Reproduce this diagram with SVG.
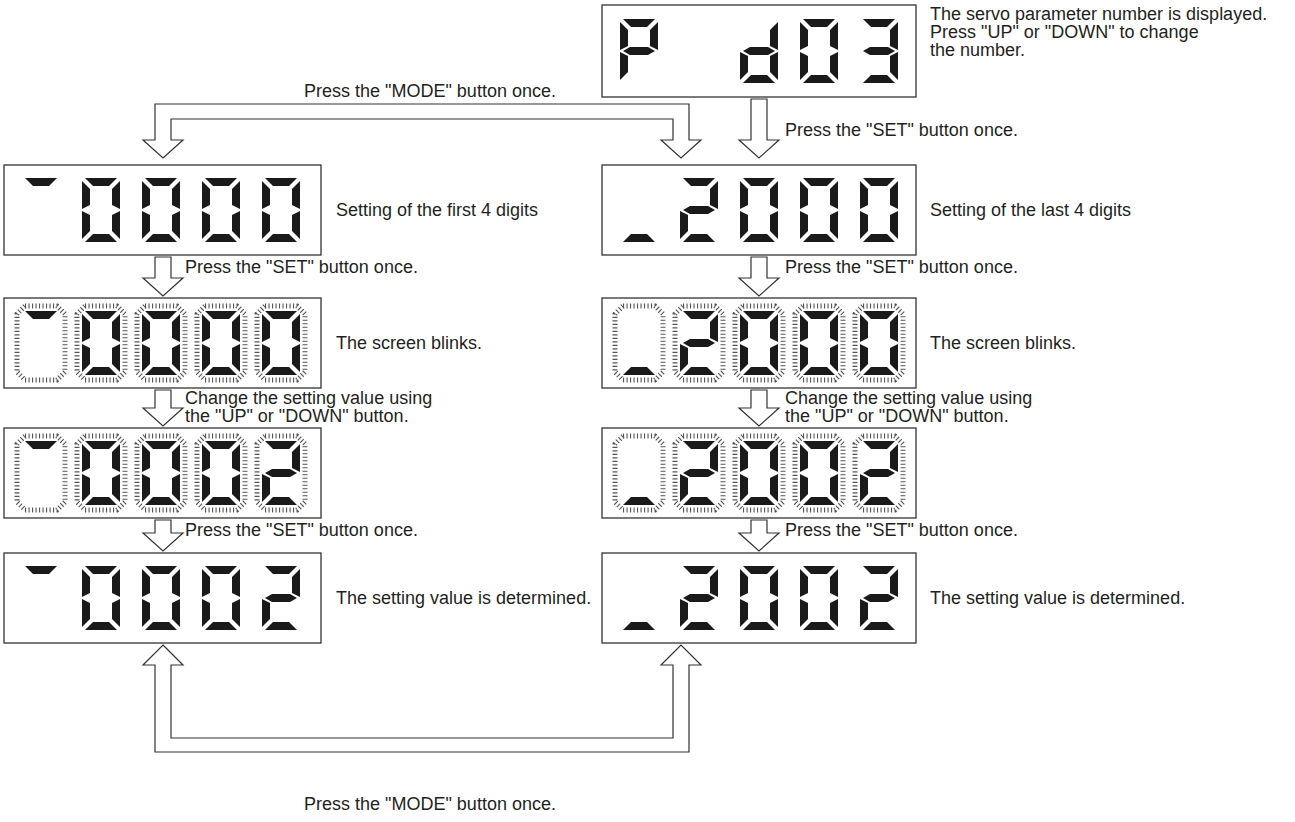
<svg xmlns="http://www.w3.org/2000/svg" xmlns:xlink="http://www.w3.org/1999/xlink" width="1295" height="822" viewBox="0 0 1295 822">
<style>
.bg{fill:#fff}
.box{fill:#fff;stroke:#333;stroke-width:1.3}
.seg{fill:#1a1a1a}
.glow{fill:none;stroke:#555;stroke-width:5;stroke-dasharray:1.1 2.4}
.arr{fill:#fff;stroke:#333;stroke-width:1.2;stroke-linejoin:miter}
.t{font-family:"Liberation Sans",Arial,sans-serif;font-size:18px;fill:#231f20}
</style>
<defs>
<polygon id="sa" points="3,0 35,0 27,8 11,8"/>
<polygon id="sb" points="38,3 38,31 30,27 30,11"/>
<polygon id="sc" points="38,33 38,61 30,53 30,37"/>
<polygon id="sd" points="3,64 11,56 27,56 35,64"/>
<polygon id="se" points="0,33 8,37 8,53 0,61"/>
<polygon id="sf" points="0,3 8,11 8,27 0,31"/>
<polygon id="sg" points="3,32 10,28 28,28 35,32 28,36 10,36"/>
<g id="d0" class="seg"><use href="#sa"/><use href="#sb"/><use href="#sc"/><use href="#sd"/><use href="#se"/><use href="#sf"/></g>
<g id="d2" class="seg"><use href="#sa"/><use href="#sb"/><use href="#sg"/><use href="#se"/><use href="#sd"/></g>
<g id="d3" class="seg"><use href="#sa"/><use href="#sb"/><use href="#sg"/><use href="#sc"/><use href="#sd"/></g>
<g id="dd" class="seg"><use href="#sb"/><use href="#sc"/><use href="#sd"/><use href="#se"/><use href="#sg"/></g>
<g id="dP" class="seg"><use href="#sa"/><use href="#sb"/><use href="#sf"/><use href="#sg"/><use href="#se"/></g>
<g id="dt" class="seg"><use href="#sa"/></g>
<g id="du" class="seg"><use href="#sd"/></g>
<path id="gl" class="glow" d="M3,-5 H35 L43,3 V61 L35,69 H3 L-5,61 V3 Z"/>
</defs>
<rect class="bg" x="0" y="0" width="1295" height="822"/>

<g id="connectors">
<path class="arr" d="M155,140 L155,104 L689,104 L689,140 L701,140 L681,158 L661,140 L673,140 L673,119 L171,119 L171,140 L183,140 L163,158 L143,140 Z"/>
<path class="arr" d="M751,99 L767,99 L767,140 L779,140 L759,158 L739,140 L751,140 Z"/>
<path class="arr" d="M155,257 L171,257 L171,278 L183,278 L163,296 L143,278 L155,278 Z"/>
<path class="arr" d="M751,257 L767,257 L767,278 L779,278 L759,296 L739,278 L751,278 Z"/>
<path class="arr" d="M155,390 L171,390 L171,408 L183,408 L163,426 L143,408 L155,408 Z"/>
<path class="arr" d="M751,390 L767,390 L767,408 L779,408 L759,426 L739,408 L751,408 Z"/>
<path class="arr" d="M155,520 L171,520 L171,533 L183,533 L163,551 L143,533 L155,533 Z"/>
<path class="arr" d="M751,520 L767,520 L767,533 L779,533 L759,551 L739,533 L751,533 Z"/>
<path class="arr" d="M163,645 L183,665 L171,665 L171,738 L673,738 L673,665 L661,665 L681,645 L701,665 L689,665 L689,752 L155,752 L155,665 L143,665 Z"/>
</g>

<g id="n-top">
<rect class="box" x="602" y="5" width="314" height="92"/>
<use href="#dP" x="620" y="19"/><use href="#dd" x="740" y="19"/><use href="#d0" x="800" y="19"/><use href="#d3" x="860" y="19"/>
<text class="t" x="930" y="20">The servo parameter number is displayed.</text>
<text class="t" x="930" y="38">Press "UP" or "DOWN" to change</text>
<text class="t" x="930" y="56">the number.</text>
</g>

<g id="n-l1">
<rect class="box" x="4" y="165" width="317" height="90"/>
<use href="#dt" x="22" y="178"/><use href="#d0" x="82" y="178"/><use href="#d0" x="142" y="178"/><use href="#d0" x="202" y="178"/><use href="#d0" x="262" y="178"/>
<text class="t" x="336" y="216">Setting of the first 4 digits</text>
</g>
<g id="n-r1">
<rect class="box" x="602" y="165" width="314" height="90"/>
<use href="#du" x="620" y="178"/><use href="#d2" x="680" y="178"/><use href="#d0" x="740" y="178"/><use href="#d0" x="800" y="178"/><use href="#d0" x="860" y="178"/>
<text class="t" x="930" y="216">Setting of the last 4 digits</text>
</g>

<g id="n-l2">
<rect class="box" x="4" y="298" width="317" height="90"/>
<use href="#gl" x="22" y="311"/><use href="#gl" x="82" y="311"/><use href="#gl" x="142" y="311"/><use href="#gl" x="202" y="311"/><use href="#gl" x="262" y="311"/>
<use href="#dt" x="22" y="311"/><use href="#d0" x="82" y="311"/><use href="#d0" x="142" y="311"/><use href="#d0" x="202" y="311"/><use href="#d0" x="262" y="311"/>
<text class="t" x="336" y="349">The screen blinks.</text>
</g>
<g id="n-r2">
<rect class="box" x="602" y="298" width="314" height="90"/>
<use href="#gl" x="620" y="311"/><use href="#gl" x="680" y="311"/><use href="#gl" x="740" y="311"/><use href="#gl" x="800" y="311"/><use href="#gl" x="860" y="311"/>
<use href="#du" x="620" y="311"/><use href="#d2" x="680" y="311"/><use href="#d0" x="740" y="311"/><use href="#d0" x="800" y="311"/><use href="#d0" x="860" y="311"/>
<text class="t" x="930" y="349">The screen blinks.</text>
</g>

<g id="n-l3">
<rect class="box" x="4" y="428" width="317" height="90"/>
<use href="#gl" x="22" y="441"/><use href="#gl" x="82" y="441"/><use href="#gl" x="142" y="441"/><use href="#gl" x="202" y="441"/><use href="#gl" x="262" y="441"/>
<use href="#dt" x="22" y="441"/><use href="#d0" x="82" y="441"/><use href="#d0" x="142" y="441"/><use href="#d0" x="202" y="441"/><use href="#d2" x="262" y="441"/>
</g>
<g id="n-r3">
<rect class="box" x="602" y="428" width="314" height="90"/>
<use href="#gl" x="620" y="441"/><use href="#gl" x="680" y="441"/><use href="#gl" x="740" y="441"/><use href="#gl" x="800" y="441"/><use href="#gl" x="860" y="441"/>
<use href="#du" x="620" y="441"/><use href="#d2" x="680" y="441"/><use href="#d0" x="740" y="441"/><use href="#d0" x="800" y="441"/><use href="#d2" x="860" y="441"/>
</g>

<g id="n-l4">
<rect class="box" x="4" y="553" width="317" height="90"/>
<use href="#dt" x="22" y="566"/><use href="#d0" x="82" y="566"/><use href="#d0" x="142" y="566"/><use href="#d0" x="202" y="566"/><use href="#d2" x="262" y="566"/>
<text class="t" x="336" y="604">The setting value is determined.</text>
</g>
<g id="n-r4">
<rect class="box" x="602" y="553" width="314" height="90"/>
<use href="#du" x="620" y="566"/><use href="#d2" x="680" y="566"/><use href="#d0" x="740" y="566"/><use href="#d0" x="800" y="566"/><use href="#d2" x="860" y="566"/>
<text class="t" x="930" y="604">The setting value is determined.</text>
</g>

<g id="labels">
<text class="t" x="430" y="97" text-anchor="middle">Press the "MODE" button once.</text>
<text class="t" x="785" y="136">Press the "SET" button once.</text>
<text class="t" x="185" y="273">Press the "SET" button once.</text>
<text class="t" x="785" y="273">Press the "SET" button once.</text>
<text class="t" x="185" y="404">Change the setting value using</text>
<text class="t" x="185" y="422">the "UP" or "DOWN" button.</text>
<text class="t" x="785" y="404">Change the setting value using</text>
<text class="t" x="785" y="422">the "UP" or "DOWN" button.</text>
<text class="t" x="185" y="536">Press the "SET" button once.</text>
<text class="t" x="785" y="536">Press the "SET" button once.</text>
<text class="t" x="430" y="810" text-anchor="middle">Press the "MODE" button once.</text>
</g>
</svg>
